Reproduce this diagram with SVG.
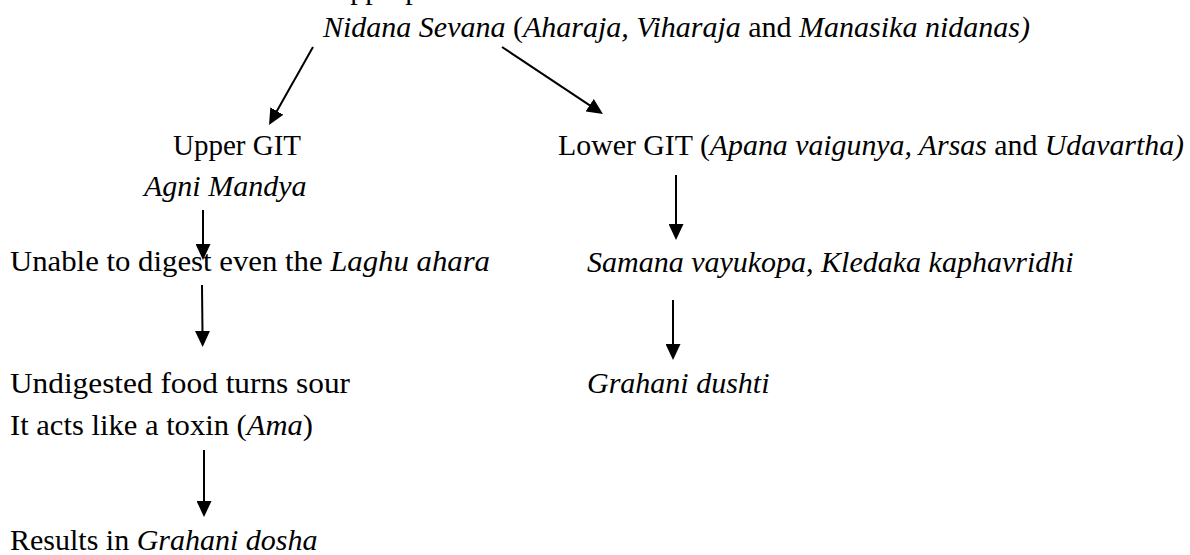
<svg xmlns="http://www.w3.org/2000/svg" width="1190" height="555" viewBox="0 0 1190 555">
<style>
text{font-family:"Liberation Serif","Times New Roman",serif;font-size:30px;fill:#000}
.i{font-style:italic}
.c{stroke:#000;stroke-width:2;fill:none}
</style>
<defs>
<marker id="ah" markerUnits="userSpaceOnUse" markerWidth="16" markerHeight="15" viewBox="0 0 16 15" refX="2" refY="7.5" orient="auto">
<path d="M0,0 L16,7.5 L0,15 z" fill="#000"/>
</marker>
</defs>
<rect width="1190" height="555" fill="#fff"/>
<g id="n0"><text x="312" y="-1">Inappropriate</text></g>
<g id="n1"><text x="323" y="37"><tspan class="i">Nidana Sevana</tspan> (<tspan class="i">Aharaja, Viharaja</tspan> and <tspan class="i">Manasika nidanas)</tspan></text></g>
<g id="n2"><text x="173" y="155" textLength="128" lengthAdjust="spacingAndGlyphs">Upper GIT</text><text x="144" y="196" class="i">Agni Mandya</text></g>
<g id="n3"><text x="10" y="271" textLength="480" lengthAdjust="spacingAndGlyphs">Unable to digest even the <tspan class="i">Laghu ahara</tspan></text></g>
<g id="n4"><text x="10" y="393" textLength="340" lengthAdjust="spacingAndGlyphs">Undigested food turns sour</text><text x="10" y="435" textLength="303" lengthAdjust="spacingAndGlyphs">It acts like a toxin (<tspan class="i">Ama</tspan>)</text></g>
<g id="n5"><text x="10" y="550">Results in <tspan class="i">Grahani dosha</tspan></text></g>
<g id="n6"><text x="558" y="155" textLength="626" lengthAdjust="spacingAndGlyphs">Lower GIT (<tspan class="i">Apana vaigunya, Arsas</tspan> and <tspan class="i">Udavartha)</tspan></text></g>
<g id="n7"><text x="587" y="272" class="i">Samana vayukopa, Kledaka kaphavridhi</text></g>
<g id="n8"><text x="587" y="393" class="i">Grahani dushti</text></g>
<g id="connectors">
<line class="c" x1="313" y1="47" x2="275.9" y2="112.8" marker-end="url(#ah)"/>
<line class="c" x1="502" y1="47" x2="591.3" y2="106.3" marker-end="url(#ah)"/>
<line class="c" x1="203" y1="210" x2="203" y2="246" marker-end="url(#ah)"/>
<line class="c" x1="202" y1="285" x2="202.5" y2="333" marker-end="url(#ah)"/>
<line class="c" x1="204" y1="450" x2="204" y2="503" marker-end="url(#ah)"/>
<line class="c" x1="676" y1="175" x2="676" y2="226" marker-end="url(#ah)"/>
<line class="c" x1="673" y1="300" x2="673" y2="346" marker-end="url(#ah)"/>
</g>
</svg>
